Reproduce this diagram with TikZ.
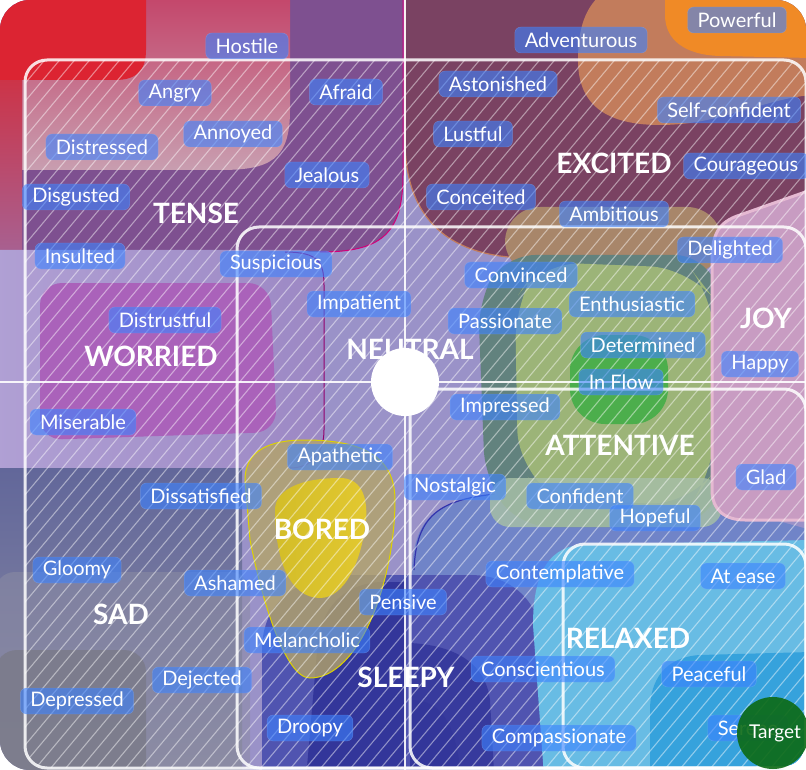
\documentclass[tikz,border=0pt]{standalone}
\usepackage{fontspec}
\setmainfont{Lato}
\usetikzlibrary{positioning}
\definecolor{tagblue}{HTML}{3C82FF}
\definecolor{basebg}{HTML}{9A92C8}
\definecolor{redhot}{HTML}{DC2432}
\definecolor{pinktop}{HTML}{C4456A}
\definecolor{pinkbottom}{HTML}{C89EB0}
\definecolor{stripred}{HTML}{CC3448}
\definecolor{stripmauve}{HTML}{A86090}
\definecolor{tensepurple}{HTML}{7E5090}
\definecolor{maroon}{HTML}{7A4262}
\definecolor{orangelight}{HTML}{C27C5C}
\definecolor{orangehot}{HTML}{F08A26}
\definecolor{joypink}{HTML}{C89CC2}
\definecolor{worriedleft}{HTML}{B0A0D4}
\definecolor{worriedright}{HTML}{9C88C4}
\definecolor{magentaw}{HTML}{AA62BA}
\definecolor{sadslate}{HTML}{62679A}
\definecolor{sadgray}{HTML}{8C8CA4}
\definecolor{saddark}{HTML}{7A7A88}
\definecolor{attouter}{HTML}{62827E}
\definecolor{attlight}{HTML}{9CB478}
\definecolor{attbright}{HTML}{4CAE4C}
\definecolor{tan}{HTML}{A8866A}
\definecolor{palegreen}{HTML}{A6BEA6}
\definecolor{boredout}{HTML}{B4A468}
\definecolor{boredin}{HTML}{E2C830}
\definecolor{sleepmid}{HTML}{5054B0}
\definecolor{sleepdark}{HTML}{33369A}
\definecolor{lowblue}{HTML}{7084C8}
\definecolor{relaxlight}{HTML}{68BCE4}
\definecolor{relaxdark}{HTML}{36A2DC}
\definecolor{targetgreen}{HTML}{0C6A14}
\tikzset{
 feel/.style={fill=tagblue,fill opacity=.6,draw=tagblue!60!white,draw opacity=.4,text=white,text opacity=1,
  rounded corners=6pt,inner xsep=10pt,inner ysep=0pt,minimum height=26pt,font=\fontsize{20}{20}\selectfont},
 mood/.style={text=white,font=\fontsize{28}{28}\selectfont\bfseries},
 frame/.style={draw=white,draw opacity=.85,line width=3pt,rounded corners=22pt},
}
\begin{document}
\begin{tikzpicture}[x=1pt,y=-1pt]
\useasboundingbox(0,0)rectangle(806,770);
\begin{scope}
\clip[rounded corners=30pt](0,0)rectangle(806,770);
\fill[basebg](0,0)rectangle(806,770);
\fill[tensepurple](-5,-5)--(403,-5)--(403,175)..controls(403,235)and(380,252)..(320,252)--(-5,252)--cycle;
\draw[draw=purple!70!magenta,line width=1pt](403,0)--(403,175)..controls(403,235)and(380,252)..(320,252);
\shade[top color=pinktop,bottom color=pinkbottom](-5,-5)--(290,-5)--(290,110)..controls(290,160)and(270,170)..(220,170)--(-5,170)--cycle;
\shade[top color=stripred,bottom color=stripmauve](-5,80)rectangle(22,250);
\fill[redhot](-5,-5)--(146,-5)--(146,50)..controls(146,72)and(135,80)..(115,80)--(-5,80)--cycle;
\fill[maroon](405,-5)--(811,-5)--(811,258)--(530,258)..controls(450,258)and(405,220)..(405,140)--cycle;
\draw[orangelight,line width=1.2pt](405,0)--(405,140)..controls(405,220)and(450,258)..(530,258);
\fill[orangelight](600,-5)--(811,-5)--(811,95)..controls(760,100)and(720,125)..(660,125)..controls(600,125)and(578,100)..(578,60)..controls(578,20)and(590,5)..(600,-5)--cycle;
\fill[orangehot](665,-5)--(811,-5)--(811,58)--(720,56)..controls(685,55)and(665,40)..(665,15)--cycle;
\shade[left color=worriedleft,right color=worriedright](-5,250)--(300,250)..controls(318,252)and(324,262)..(324,285)--(324,430)..controls(324,455)and(310,468)..(290,468)--(-5,468)--cycle;
\draw[violet!70!purple,line width=1pt](285,252)..controls(318,252)and(324,262)..(324,285)--(324,430)..controls(324,455)and(310,468)..(290,468);
\fill[magentaw,rounded corners=22pt](40,283)--(270,283)--(277,432)--(40,440)--cycle;
\shade[top color=sadslate,bottom color=sadgray](-5,468)rectangle(242,775);
\fill[sadgray,opacity=.55,rounded corners=20pt](-5,572)rectangle(250,790);
\fill[saddark,opacity=.8,rounded corners=22pt](-5,650)rectangle(146,790);
\fill[lowblue](412,775)--(412,570)..controls(414,515)and(440,500)..(495,494)--(720,505)--(811,530)--(811,775)--cycle;
\draw[blue!60!black!80,line width=1.2pt](495,494)..controls(440,500)and(416,515)..(414,570);
\fill[tan,rounded corners=35pt](505,207)rectangle(722,275);
\fill[attouter,rounded corners=30pt](505,255)--(705,255)--(722,300)--(722,485)--(700,527)--(520,527)--(485,480)--(478,300)--cycle;
\fill[attlight,rounded corners=40pt](540,262)--(690,268)--(715,300)--(715,470)--(690,505)--(560,500)--(518,470)--(515,300)--cycle;
\fill[attbright,rounded corners=35pt](570,335)rectangle(668,424);
\fill[palegreen,opacity=.85,rounded corners=20pt](490,478)rectangle(722,527);
\fill[joypink](811,190)--(740,215)..controls(718,222)and(712,235)..(712,260)--(712,490)..controls(712,510)and(725,520)..(745,520)--(811,520)--cycle;
\draw[pink!60!violet!50,line width=3pt](811,190)--(740,215)..controls(718,222)and(712,235)..(712,260)--(712,490)..controls(712,510)and(725,520)..(745,520)--(811,520);
\fill[sleepmid](262,790)--(262,650)..controls(262,600)and(300,575)..(350,575)--(470,575)..controls(520,575)and(545,610)..(545,660)--(545,790)--cycle;
\fill[sleepdark](305,790)--(318,640)..controls(325,600)and(350,584)..(380,582)--(405,582)--(405,790)--cycle;
\fill[sleepdark!85!sleepmid](410,790)--(410,643)..controls(450,645)and(485,660)..(490,700)--(495,790)--cycle;
\fill[sleepdark](410,790)--(410,700)..controls(440,700)and(458,720)..(462,790)--cycle;
\fill[relaxlight](811,540)--(580,545)..controls(545,548)and(533,580)..(533,625)--(545,790)--(811,790)--cycle;
\fill[relaxdark](811,652)--(700,655)..controls(665,657)and(650,680)..(650,710)--(650,790)--(811,790)--cycle;
\fill[boredout,opacity=.8](245,480)..controls(245,450)and(270,440)..(305,440)..controls(360,440)and(395,455)..(395,500)..controls(395,580)and(360,678)..(310,678)..controls(285,678)and(262,600)..(250,540)--cycle;
\draw[yellow!70!olive,line width=1pt](245,480)..controls(245,450)and(270,440)..(305,440)..controls(360,440)and(395,455)..(395,500)..controls(395,580)and(360,678)..(310,678)..controls(285,678)and(262,600)..(250,540)--cycle;
\shade[left color=boredin!85!olive,right color=boredin](275,510)..controls(275,490)and(300,478)..(340,478)..controls(360,478)and(368,495)..(366,520)..controls(362,560)and(345,598)..(320,598)..controls(290,598)and(275,560)..(275,510)--cycle;
\end{scope}
\begin{scope}
\clip[rounded corners=22pt](25,60)rectangle(806,768);
\foreach\k in{-660,-645,...,810}\draw[white,opacity=.45,line width=1.1pt](\k,775)--(\k+650,0);
\end{scope}
\draw[white,opacity=.9,line width=1.5pt](405,0)--(405,770);
\draw[white,opacity=.9,line width=1.5pt](0,382)--(806,382);
\draw[frame](25,60)rectangle(806,768);
\draw[frame](237,227)rectangle(806,768);
\draw[frame](410,389)rectangle(806,768);
\draw[frame](563,544)rectangle(806,768);
\node[feel](hostile)at(247,46){Hostile};
\node[feel](adventurous)at(581,40){Adventurous};
\node[feel](powerful)at(737,20){Powerful};
\node[feel](angry)at(175,93){Angry};
\node[feel](afraid)at(346,92){Afraid};
\node[feel](astonished)at(498,84){Astonished};
\node[feel](selfconfident)at(729,110){Self-confident};
\node[feel](distressed)at(102,147){Distressed};
\node[feel](annoyed)at(233,134){Annoyed};
\node[feel](lustful)at(473,134){Lustful};
\node[feel](jealous)at(327,175){Jealous};
\node[feel](courageous)at(746,166){Courageous};
\node[feel](disgusted)at(76,197){Disgusted};
\node[feel](conceited)at(481,197){Conceited};
\node[feel](ambitious)at(614,214){Ambitious};
\node[feel](delighted)at(730,250){Delighted};
\node[feel](insulted)at(80,256){Insulted};
\node[feel](suspicious)at(276,264){Suspicious};
\node[feel](convinced)at(521,275){Convinced};
\node[feel](enthusiastic)at(632,304){Enthusiastic};
\node[feel](impatient)at(359,304){Impatient};
\node[feel](passionate)at(505,321){Passionate};
\node[feel](distrustful)at(165,320){Distrustful};
\node[feel](determined)at(643,345){Determined};
\node[feel](happy)at(760,364){Happy};
\node[feel](inflow)at(621,382){In Flow};
\node[feel](miserable)at(83,422){Miserable};
\node[feel](impressed)at(505,407){Impressed};
\node[feel](apathetic)at(340,457){Apathetic};
\node[feel](glad)at(766,477){Glad};
\node[feel](dissatisfied)at(201,496){Dissatisfied};
\node[feel](nostalgic)at(455,487){Nostalgic};
\node[feel](confident)at(580,496){Confident};
\node[feel](hopeful)at(655,518){Hopeful};
\node[feel](gloomy)at(77,570){Gloomy};
\node[feel](contemplative)at(560,574){Contemplative};
\node[feel](atease)at(743,576){At ease};
\node[feel](ashamed)at(235,583){Ashamed};
\node[feel](pensive)at(403,602){Pensive};
\node[feel](melancholic)at(307,640){Melancholic};
\node[feel](conscientious)at(543,669){Conscientious};
\node[feel](peaceful)at(709,674){Peaceful};
\node[feel](dejected)at(202,680){Dejected};
\node[feel](depressed)at(77,701){Depressed};
\node[feel](droopy)at(310,728){Droopy};
\node[feel](serene)at(748,728){Serene};
\node[feel](compassionate)at(559,738){Compassionate};
\node[mood](tense)at(196,213){TENSE};
\node[mood](excited)at(614,163){EXCITED};
\node[mood](worried)at(151,356){WORRIED};
\node[mood](neutral)at(410,349){NEUTRAL};
\node[mood](joy)at(766,318){JOY};
\node[mood](attentive)at(620,445){ATTENTIVE};
\node[mood](bored)at(322,529){BORED};
\node[mood](sad)at(121,614){SAD};
\node[mood](relaxed)at(628,638){RELAXED};
\node[mood](sleepy)at(406,677){SLEEPY};
\fill[white](405,382)circle(34);
\fill[targetgreen,opacity=.9](773,733)circle(36);
\node[text=white,font=\fontsize{19}{19}\selectfont](target)at(775,733){Target};
\end{tikzpicture}
\end{document}
